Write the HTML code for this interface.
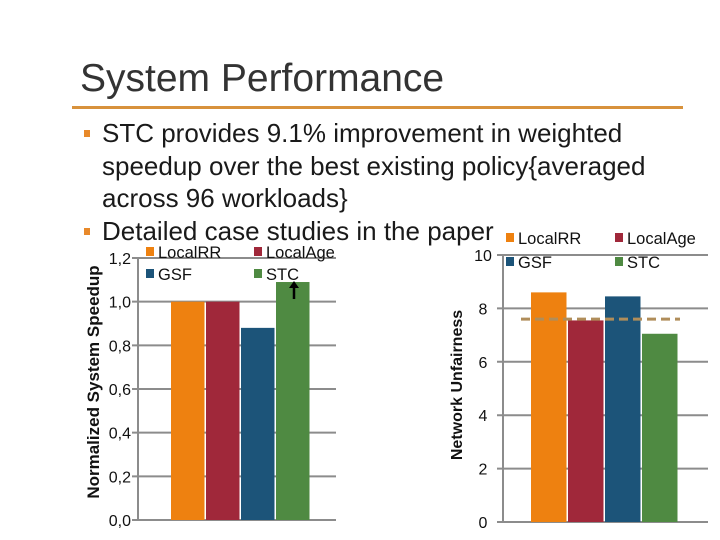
<!DOCTYPE html>
<html><head><meta charset="utf-8"><style>
body{margin:0;background:#fff;}
#s{position:relative;width:720px;height:540px;overflow:hidden;font-family:"Liberation Sans",sans-serif;}
.t{position:absolute;white-space:nowrap;}
</style></head><body>
<div id="s">
<div class="t" style="left:80px;top:57px;font-size:39px;color:#333;">System Performance</div>
<div style="position:absolute;left:72px;top:106px;width:611px;height:3px;background:#d8923c;"></div>
<div style="position:absolute;left:0;top:0;">
<div style="position:absolute;left:84px;top:130px;width:6px;height:7px;background:#e8892a;"></div>
<div class="t" style="left:102px;top:117px;font-size:26px;line-height:32.5px;color:#1a1a1a;">STC provides 9.1% improvement in weighted<br>speedup over the best existing policy{averaged<br>across 96 workloads}</div>
<div style="position:absolute;left:84px;top:228px;width:6px;height:7px;background:#e8892a;"></div>
<div class="t" style="left:102px;top:215px;font-size:26px;line-height:32.5px;color:#1a1a1a;">Detailed case studies in the paper</div>
</div>
<svg width="720" height="540" style="position:absolute;left:0;top:0">
<g id="left"></g>
<g id="right"></g>
</svg>
</div>
<script>
const seriesNames=["LocalRR","LocalAge","GSF","STC"];
const colors=["#ee8110","#a0283a","#1c5479","#4f8a42"];
const speedupValues=[1.0,1.0,0.88,1.09];
const speedupTicks=["0,0","0,2","0,4","0,6","0,8","1,0","1,2"];
const unfairValues=[8.6,7.55,8.45,7.05];
const unfairTicks=["0","2","4","6","8","10"];
const unfairBaseline=7.6;
const NS="http://www.w3.org/2000/svg";
function mk(p,tag,attrs){const e=document.createElementNS(NS,tag);for(const k in attrs)e.setAttribute(k,attrs[k]);p.appendChild(e);return e;}
function chart(g,cfg){
  const y=v=>cfg.y0-(v-0)/(cfg.max)*(cfg.y0-cfg.yTop);
  cfg.ticks.forEach((lab,i)=>{
    const v=i*cfg.step, yy=y(v);
    const l=mk(g,"line",{x1:cfg.ax-6,x2:cfg.gx2,y1:yy,y2:yy,stroke:"#8c8c8c","stroke-width":2});
    
    
    const t=mk(g,"text",{x:cfg.lx,y:yy+6,"font-size":16,"text-anchor":cfg.anchor,fill:"#111","font-family":"Liberation Sans"});
    t.textContent=lab;
    
    
  });
  const ax=mk(g,"line",{x1:cfg.ax,x2:cfg.ax,y1:cfg.yTop,y2:cfg.y0,stroke:"#8c8c8c","stroke-width":2});
  
  
  cfg.values.forEach((v,i)=>{
    const x=cfg.bx+i*cfg.bw;
    const r=mk(g,"rect",{x:x,y:y(v),width:cfg.bw-1.5,height:cfg.y0-y(v),fill:colors[i]});
    
    
  });
  const tt=mk(g,"text",{transform:`translate(${cfg.tx},${cfg.ty}) rotate(-90)`,"font-size":cfg.tfs,"font-weight":"bold","text-anchor":"middle",fill:"#111","font-family":"Liberation Sans"});
  tt.textContent=cfg.title;
  
  
  seriesNames.forEach((n,i)=>{
    const lx=cfg.legX+(i%2)*cfg.legDX, ly=cfg.legY+Math.floor(i/2)*cfg.legDY;
    const sq=mk(g,"rect",{x:lx,y:ly-5,width:8,height:9,fill:colors[i]});
    
    
    const t=mk(g,"text",{x:lx+12,y:ly+6,"font-size":16.5,fill:"#111","font-family":"Liberation Sans"});
    t.textContent=n;
    
    
  });
  return y;
}
const L=document.getElementById('left');
const yl=chart(L,{y0:520,yTop:258,max:1.2,step:0.2,ticks:speedupTicks,ax:138,gx2:336,lx:131,anchor:"end",values:speedupValues,bx:171,bw:35,tx:99,ty:382,tfs:17,title:"Normalized System Speedup",legX:146,legY:252,legDX:108,legDY:22});
const ar=mk(L,"line",{x1:294,x2:294,y1:yl(speedupValues[3])+17,y2:yl(speedupValues[3])+3,stroke:"#000","stroke-width":2.5});


const ah=mk(L,"polygon",{points:`289,${yl(speedupValues[3])+6} 299,${yl(speedupValues[3])+6} 294,${yl(speedupValues[3])-1}`,fill:"#000"});


const R=document.getElementById('right');
const yr=chart(R,{y0:522,yTop:255,max:10,step:2,ticks:unfairTicks,ax:503,gx2:708,lx:483,anchor:"middle",values:unfairValues,bx:531,bw:37,tx:462,ty:385,tfs:16,title:"Network Unfairness",legX:506,legY:238,legDX:109,legDY:24});
const dl=mk(R,"line",{x1:521,x2:680,y1:yr(unfairBaseline),y2:yr(unfairBaseline),stroke:"#b08d5a","stroke-width":3,"stroke-dasharray":"9,5"});


</script>
</body></html>
